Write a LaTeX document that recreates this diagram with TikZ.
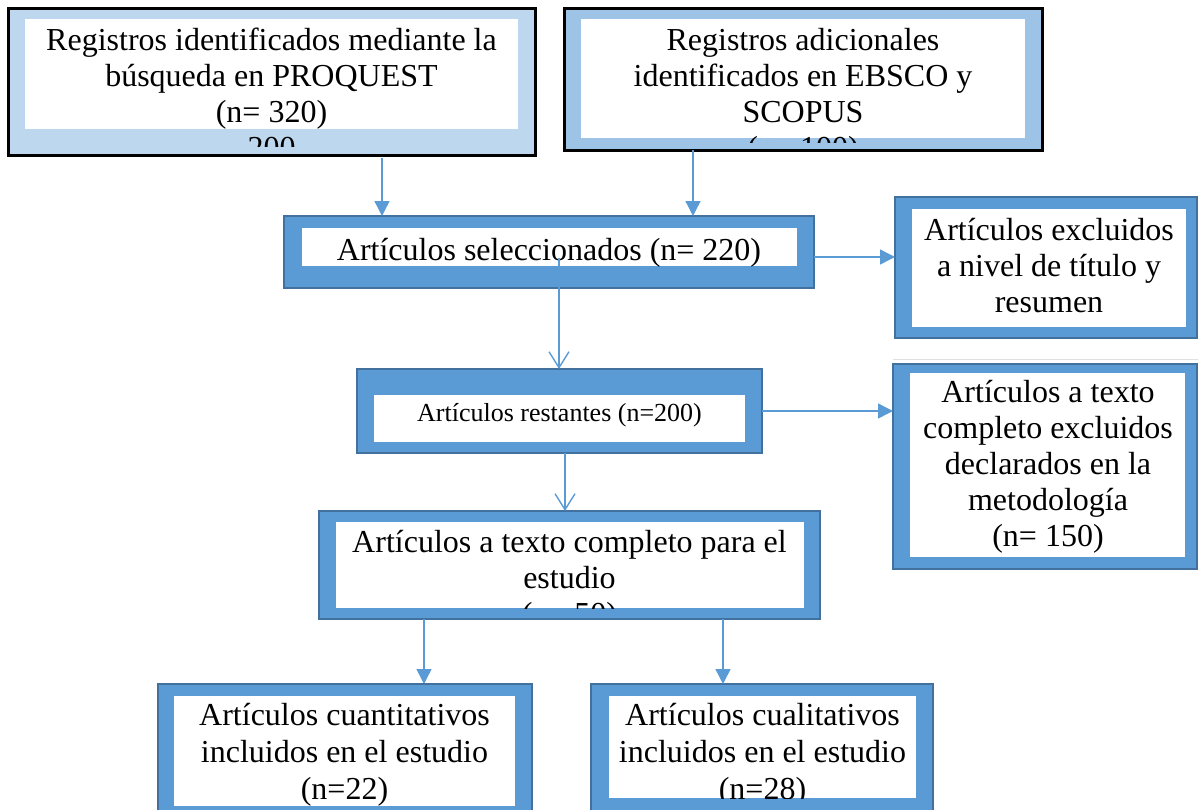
\documentclass[tikz,border=0pt]{standalone}
\usepackage{fontspec}
\setmainfont{Liberation Serif}
\usetikzlibrary{arrows.meta}
\definecolor{lblue}{HTML}{BDD7EE}
\definecolor{mblue}{HTML}{9DC3E6}
\definecolor{bblue}{HTML}{5B9BD5}
\definecolor{dblue}{HTML}{41719C}
\newcommand{\boxtext}[1]{\begin{tabular}[t]{@{}c@{}}#1\end{tabular}}
\begin{document}
\begin{tikzpicture}[x=1pt,y=-1pt,
  topbox/.style={draw=black,line width=3pt,inner sep=0pt,outer sep=0pt},
  flowbox/.style={draw=dblue,fill=bblue,line width=2pt,inner sep=0pt,outer sep=0pt},
  whitepart/.style={fill=white},
  txt/.style={anchor=base,inner sep=0pt,font=\fontsize{32}{36}\selectfont},
  arr/.style={draw=bblue,line width=1.4pt,-{Triangle[length=15pt,width=15pt]}},
  oarr/.style={draw=bblue,line width=1.4pt,-{Straight Barb[length=16pt,width=20pt]}}]
\path[use as bounding box] (0,0) rectangle (1198,809);
\clip (0,0) rectangle (1198,809);

% Box 1
\node[topbox,fill=lblue,minimum width=527pt,minimum height=147pt] (b1) at (271.5,81.5) {};
\fill[whitepart] (25,19) rectangle (518,129);
\begin{scope}
\clip (8,8) rectangle (535,146);
\node[txt] (t1) at (271.5,50) {\boxtext{Registros identificados mediante la\\búsqueda en PROQUEST\\(n= 320)\\200}};
\end{scope}

% Box 2
\node[topbox,fill=mblue,minimum width=478pt,minimum height=142pt] (b2) at (803,79) {};
\fill[whitepart] (581,19) rectangle (1025,138);
\begin{scope}
\clip (564,8) rectangle (1042,142);
\node[txt] (t2) at (803,50) {\boxtext{Registros adicionales\\identificados en EBSCO y\\SCOPUS\\(n= 100)}};
\end{scope}

% Box 3
\node[flowbox,minimum width=530pt,minimum height=72pt] (b3) at (549,252) {};
\fill[whitepart] (302,228) rectangle (797,266);
\node[txt] (t3) at (549,260) {Artículos seleccionados (n= 220)};

% Box 4
\node[flowbox,minimum width=302pt,minimum height=141pt] (b4) at (1046,267.5) {};
\fill[whitepart] (912,209) rectangle (1186,327);
\node[txt] (t4) at (1049,240) {\boxtext{Artículos excluidos\\a nivel de título y\\resumen}};
\draw[black!12,line width=0.8pt] (893,359) -- (1198,359);

% Box 5
\node[flowbox,minimum width=405pt,minimum height=84pt] (b5) at (559.5,411) {};
\fill[whitepart] (374,395) rectangle (745,442);
\node[txt,font=\fontsize{26}{30}\selectfont] (t5) at (559.5,421) {Artículos restantes (n=200)};

% Box 6
\node[flowbox,minimum width=304pt,minimum height=205pt] (b6) at (1045,466.5) {};
\fill[whitepart] (910,373) rectangle (1185,557);
\node[txt] (t6) at (1048,402) {\boxtext{Artículos a texto\\completo excluidos\\declarados en la\\metodología\\(n= 150)}};

% Box 7
\node[flowbox,minimum width=501pt,minimum height=108pt] (b7) at (569.5,565) {};
\fill[whitepart] (336,522) rectangle (804,608);
\begin{scope}
\clip (336,522) rectangle (804,608);
\node[txt] (t7) at (569.5,552) {\boxtext{Artículos a texto completo para el\\estudio\\(n= 50)}};
\end{scope}

% Box 8
\node[flowbox,minimum width=374pt,minimum height=146pt] (b8) at (345,757) {};
\fill[whitepart] (174,696) rectangle (515,806);
\node[txt,font=\fontsize{32}{37}\selectfont] (t8) at (344.5,725) {\boxtext{Artículos cuantitativos\\incluidos en el estudio\\(n=22)}};

% Box 9
\node[flowbox,minimum width=342pt,minimum height=146pt] (b9) at (762,757) {};
\fill[whitepart] (609,696) rectangle (916,798);
\begin{scope}
\clip (609,696) rectangle (916,798);
\node[txt,font=\fontsize{32}{37}\selectfont] (t9) at (762.5,725) {\boxtext{Artículos cualitativos\\incluidos en el estudio\\(n=28)}};
\end{scope}

% connector helper coordinates
\coordinate (x1) at (382,0);
\coordinate (x2) at (693,0);
\coordinate (s35) at (559,258);
\coordinate (y34) at (0,257);
\coordinate (y56) at (0,411);
\coordinate (x57) at (565,0);
\coordinate (x78) at (424,0);
\coordinate (x79) at (723,0);

% connectors
\draw[arr,shorten <=3pt] (b1.south -| x1) -- (b3.north -| x1);
\draw[arr] (b2.south -| x2) -- (b3.north -| x2);
\draw[arr] (b3.east |- y34) -- (b4.west |- y34);
\draw[oarr] (s35) -- (b5.north -| s35);
\draw[arr] (b5.east |- y56) -- (b6.west |- y56);
\draw[oarr] (b5.south -| x57) -- (b7.north -| x57);
\draw[arr] (b7.south -| x78) -- (b8.north -| x78);
\draw[arr] (b7.south -| x79) -- (b9.north -| x79);
\end{tikzpicture}
\end{document}
